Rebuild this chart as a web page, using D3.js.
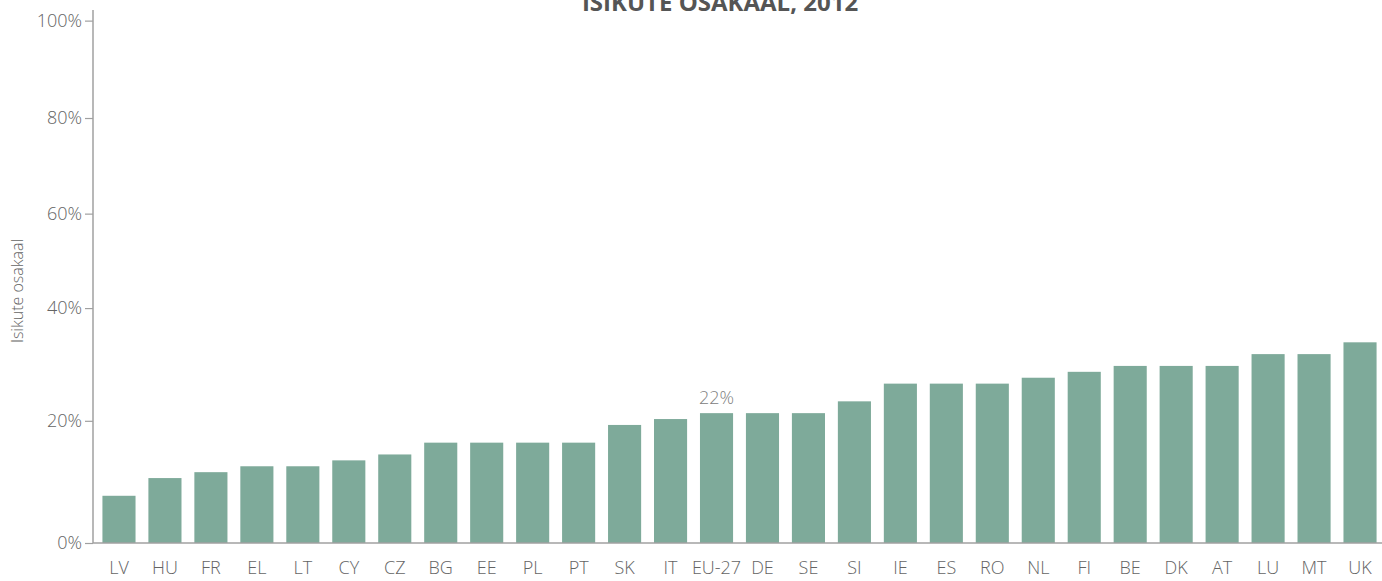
<!DOCTYPE html>
<html>
<head>
<meta charset="utf-8">
<script src="https://cdn.jsdelivr.net/npm/d3@7"></script>
<style>
  body { margin: 0; background: #fff; }
  text { font-family: "Open Sans", "Noto Sans", sans-serif; }
</style>
</head>
<body>
<div id="chart"></div>
<script>

/****************************** Data **********************************/

var countries = ["LV","HU","FR","EL","LT","CY","CZ","BG","EE","PL","PT","SK","IT","EU-27",
                 "DE","SE","SI","IE","ES","RO","NL","FI","BE","DK","AT","LU","MT","UK"];
var shares = [8, 11, 12, 13, 13, 14, 15, 17, 17, 17, 17, 20, 21, 22,
              22, 22, 24, 27, 27, 27, 28, 29, 30, 30, 30, 32, 32, 34];

// tick labels as printed, and where the original chart placed them (in % of the bar scale)
var tickLabels = ["0%", "20%", "40%", "60%", "80%", "100%"];
var tickPlaces = [0, 20.7, 39.8, 55.8, 72, 88.5];

var highlight = "EU-27";
var title = "ISIKUTE OSAKAAL, 2012";
var yTitle = "Isikute osakaal";

/****************************** Layout **********************************/

var width = 1382, height = 581;
var margin = { top: 10, left: 93, right: 0, bottom: 38 };

var svg = d3.select("#chart").append("svg")
  .attr("width", width)
  .attr("height", height);

var x = d3.scaleBand()
  .domain(countries)
  .range([margin.left + 3, width + 1])
  .paddingInner(0.28)
  .paddingOuter(0.14);

var y = d3.scaleLinear()
  .domain([0, 90.3])
  .range([height - margin.bottom, margin.top]);

var barColor = "#7eaa9a",
    textColor = "#646464",
    axisColor = "#a0a0a0";

// bars
svg.append("g").selectAll("rect")
  .data(shares)
  .enter()
  .append("rect")
  .attr("x", function(d, i){ return x(countries[i]); })
  .attr("y", function(d){ return y(d); })
  .attr("width", x.bandwidth())
  .attr("height", function(d){ return y(0) - y(d); })
  .attr("fill", barColor);

// value label over EU-27
var hi = countries.indexOf(highlight);
svg.append("text")
  .attr("x", x(highlight) + x.bandwidth() / 2)
  .attr("y", y(shares[hi]) - 9)
  .attr("text-anchor", "middle")
  .attr("font-size", 18)
  .attr("font-weight", 300)
  .attr("fill", "#808080")
  .text(shares[hi] + "%");

// y axis
var yAxis = d3.axisLeft(y)
  .tickValues(tickPlaces)
  .tickFormat(function(d, i){ return tickLabels[i]; })
  .tickSize(8)
  .tickPadding(3);

var gy = svg.append("g")
  .attr("transform", "translate(" + margin.left + ",0)")
  .call(yAxis);
gy.select(".domain").remove();
gy.selectAll("line").attr("stroke", axisColor).attr("stroke-width", 1.2);
gy.selectAll("text")
  .attr("font-size", 18)
  .attr("font-weight", 300)
  .attr("fill", textColor)
  .attr("font-family", "'Open Sans', 'Noto Sans', sans-serif");

svg.append("line")
  .attr("x1", margin.left).attr("x2", margin.left)
  .attr("y1", y(0)).attr("y2", 10)
  .attr("stroke", axisColor)
  .attr("stroke-width", 1.5);

// x axis
var xAxis = d3.axisBottom(x).tickSize(0).tickPadding(18);
var gx = svg.append("g")
  .attr("transform", "translate(0," + y(0) + ")")
  .call(xAxis);
gx.select(".domain").remove();
gx.selectAll("text")
  .attr("font-size", 18)
  .attr("font-weight", 300)
  .attr("fill", textColor)
  .attr("font-family", "'Open Sans', 'Noto Sans', sans-serif");

svg.append("line")
  .attr("x1", margin.left).attr("x2", width)
  .attr("y1", y(0)).attr("y2", y(0))
  .attr("stroke", axisColor)
  .attr("stroke-width", 1.5);

// axis title
svg.append("text")
  .attr("transform", "translate(23," + 291 + ") rotate(-90)")
  .attr("text-anchor", "middle")
  .attr("font-size", 16)
  .attr("font-weight", 300)
  .attr("fill", textColor)
  .text(yTitle);

// chart title, cut by the top edge as in the source
svg.append("text")
  .attr("x", 720)
  .attr("y", 11)
  .attr("text-anchor", "middle")
  .attr("font-size", 24)
  .attr("font-weight", 700)
  .attr("fill", "#555")
  .text(title);

</script>
</body>
</html>
